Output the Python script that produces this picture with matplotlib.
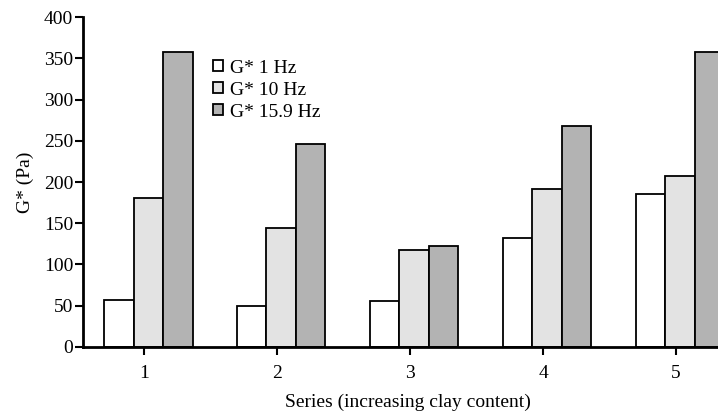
import numpy as np
import matplotlib.pyplot as plt
from matplotlib.patches import Patch

plt.rcParams['font.family'] = ['Liberation Serif', 'DejaVu Serif']

series = [1, 2, 3, 4, 5]
g_1hz = [57, 49, 56, 132, 186]
g_10hz = [181, 144, 117, 192, 207]
g_159hz = [358, 246, 122, 268, 358]
labels = ['G* 1 Hz', 'G* 10 Hz', 'G* 15.9 Hz']
colors = ['#ffffff', '#e3e3e3', '#b3b3b3']

fig = plt.figure(figsize=(7.18, 4.16), dpi=100)
ax = fig.add_axes([0.1156, 0.1666, 0.8844, 0.7918])

x = np.array(series, dtype=float)
w = 0.222
shift = 0.03
for i, vals in enumerate([g_1hz, g_10hz, g_159hz]):
    ax.bar(x + shift + (i - 1) * w, vals, width=w, color=colors[i],
           edgecolor='black', linewidth=1.3)

ax.set_xlim(0.539, 5.316)
ax.set_ylim(0, 400)
ax.set_yticks(np.arange(0, 401, 50))
ax.set_xticks(series)

for s in ['top', 'right']:
    ax.spines[s].set_visible(False)
for s in ['left', 'bottom']:
    ax.spines[s].set_linewidth(2)
ax.tick_params(axis='both', direction='out', length=6, width=1.5, labelsize=14)
ax.tick_params(axis='y', pad=1)
ax.tick_params(axis='x', pad=7)

ax.set_ylabel('G* (Pa)', fontsize=14, labelpad=7)
ax.set_xlabel('Series (increasing clay content)', fontsize=14)
ax.xaxis.set_label_coords(0.511, -0.143, transform=ax.transAxes)
ax.xaxis.label.set_va('top')

handles = [Patch(facecolor=c, edgecolor='black', linewidth=1.3) for c in colors]
ax.legend(handles, labels, loc='upper left', bbox_to_anchor=(0.193, 0.895),
          frameon=False, fontsize=14, handlelength=0.5, handleheight=0.5,
          handletextpad=0.35, labelspacing=0.26, borderaxespad=0)

fig.savefig('out.png', dpi=100)
